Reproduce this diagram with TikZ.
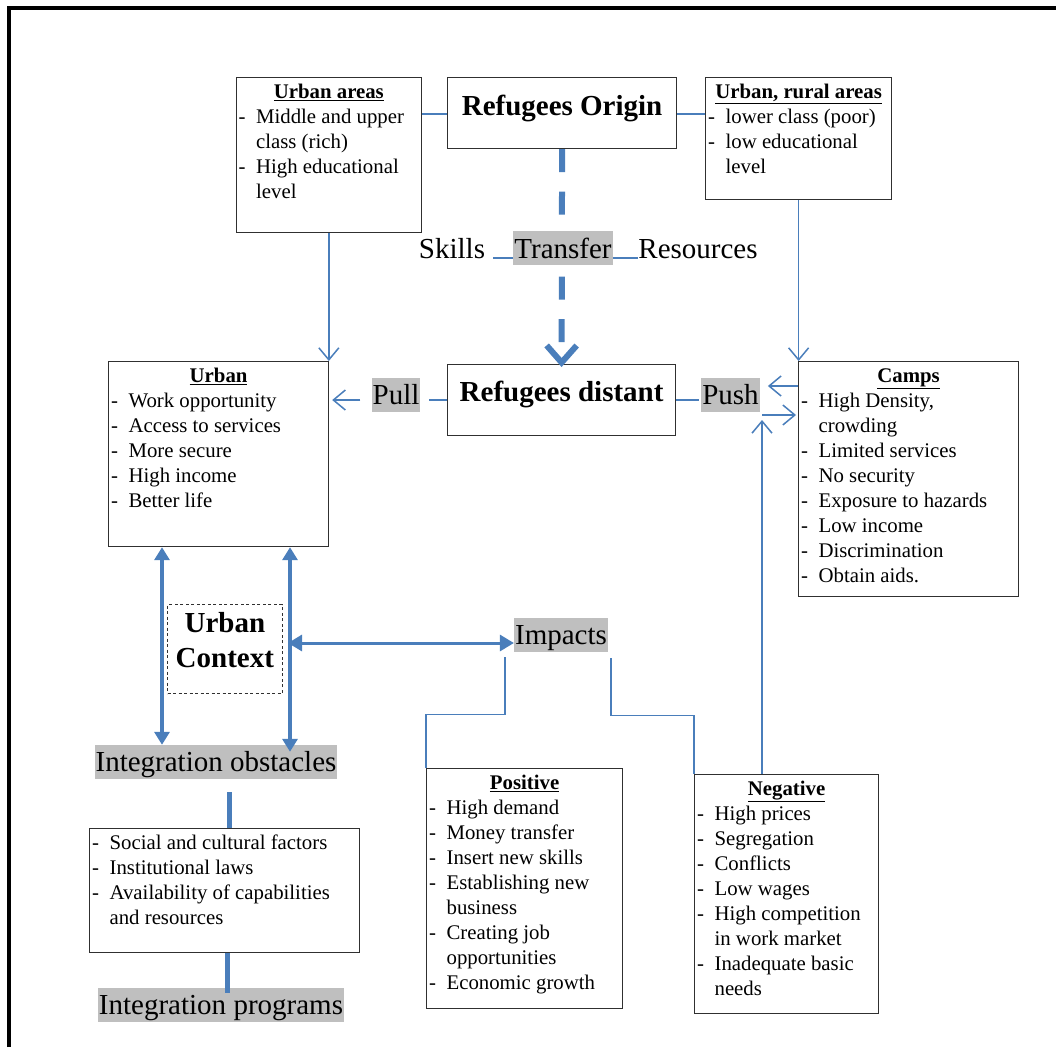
\documentclass[tikz,border=0pt]{standalone}
\usepackage{fontspec}
\setmainfont{Liberation Serif}
\usetikzlibrary{arrows.meta}
\definecolor{lnblue}{HTML}{4A7EBB}
\definecolor{hlgray}{HTML}{BFBFBF}
\definecolor{bxcol}{HTML}{303030}
\newcommand{\bxc}[3]{\parbox[t][#2pt][t]{#1pt}{\fontsize{20.8}{25}\selectfont\lineskiplimit=-100pt\rightskip=0pt plus 1fil\relax #3}}
\newcommand{\hd}[1]{\noindent\makebox[\linewidth][c]{\rule{0pt}{20.5pt}\textbf{\underline{#1}}}\par}
\newcommand{\itm}[1]{\hangindent=20pt\hangafter=1\noindent\makebox[20pt][l]{\hspace{2.5pt}-}\rule{0pt}{20.5pt}#1\par}
\tikzset{
  boxn/.style={draw=bxcol, line width=1.2pt, inner sep=0pt, anchor=north west},
  glabel/.style={fill=hlgray, inner xsep=1pt, inner ysep=1pt, text height=25.8pt, text depth=6.3pt, font=\fontsize{29}{34.8}\selectfont, anchor=base},
  plab/.style={inner sep=0pt, font=\fontsize{29}{34.8}\selectfont, anchor=base},
  conn/.style={draw=lnblue, line width=1.5pt},
  oarrow/.style={conn, -{Straight Barb[length=12pt,width=20pt]}},
  tarrow/.style={draw=lnblue, line width=4pt, {Triangle[length=13pt,width=15pt]}-{Triangle[length=13pt,width=15pt]}},
  harrow/.style={draw=lnblue, line width=3pt, {Triangle[length=14pt,width=16pt]}-{Triangle[length=14pt,width=16pt]}},
  tline/.style={draw=lnblue, line width=5pt},
  dasharrow/.style={draw=lnblue, line width=6pt, dash pattern=on 23pt off 19.5pt, -{Straight Barb[length=17pt,width=30pt]}}
}
\begin{document}
\begin{tikzpicture}[x=1pt,y=-1pt]
\useasboundingbox (0,0) rectangle (1056,1047);
% frame
\draw[line width=4pt] (9.3,1047) -- (9.3,8) -- (1056,8);

% boxes
\node[boxn] (ua) at (235.5,77) {\bxc{185.5}{155}{\hd{Urban areas}\itm{Middle and upper\\class (rich)}\itm{High educational\\level}}};
\node[boxn] (origin) at (447,77) {\parbox[t][71pt][t]{229pt}{\centering\fontsize{29}{34.8}\selectfont\rule{0pt}{38pt}\textbf{Refugees Origin}}};
\node[boxn] (ur) at (705,77) {\bxc{186}{122}{\hd{Urban, rural areas}\itm{lower class (poor)}\itm{low educational\\level}}};

\node[boxn] (urban) at (108,361) {\bxc{220}{185}{\hd{Urban}\itm{Work opportunity}\itm{Access to services}\itm{More secure}\itm{High income}\itm{Better life}}};
\node[boxn] (distant) at (447,364) {\parbox[t][71pt][t]{228pt}{\centering\fontsize{29}{34.8}\selectfont\rule{0pt}{37pt}\textbf{Refugees distant}}};
\node[boxn] (camps) at (798,361) {\bxc{220}{235}{\hd{Camps}\itm{High Density,\\crowding}\itm{Limited services}\itm{No security}\itm{Exposure to hazards}\itm{Low income}\itm{Discrimination}\itm{Obtain aids.}}};

\node[draw=bxcol, line width=1.2pt, dash pattern=on 3pt off 2.5pt, inner sep=0pt, anchor=north west] (uctx) at (167,604) {\parbox[t][89pt][t]{114.5pt}{\centering\fontsize{29}{34.5}\selectfont\bfseries\rule{0pt}{28pt}Urban\\Context}};

\node[boxn] (obsbox) at (89,828) {\bxc{270}{124}{\itm{Social and cultural factors}\itm{Institutional laws}\itm{Availability of capabilities\\and resources}}};
\node[boxn] (positive) at (426,768) {\bxc{196}{240}{\hd{Positive}\itm{High demand}\itm{Money transfer}\itm{Insert new skills}\itm{Establishing new\\business}\itm{Creating job\\opportunities}\itm{Economic growth}}};
\node[boxn] (negative) at (694,774) {\bxc{184}{239}{\hd{Negative}\itm{High prices}\itm{Segregation}\itm{Conflicts}\itm{Low wages}\itm{High competition\\in work market}\itm{Inadequate basic\\needs}}};

% dashed transfer arrow
\draw[dasharrow, shorten >=-3pt] (origin.south) -- (distant.north);

% labels
\node[glabel] (transfer) at (563,258) {Transfer};
\node[plab] (skills) at (452,258) {Skills};
\node[plab] (resources) at (698,258) {Resources};
\node[glabel] (pull) at (396,404.8) {Pull};
\node[glabel] (push) at (730.5,404.8) {Push};
\node[glabel] (impacts) at (561,644.8) {Impacts};
\node[glabel] (obstacles) at (216,771.8) {Integration obstacles};
\node[glabel] (programs) at (221,1014.8) {Integration programs};

% top connectors
\draw[conn] (ua.east |- 0,114) -- (origin.west |- 0,114);
\draw[conn] (origin.east |- 0,114) -- (ur.west |- 0,114);
\draw[conn, shorten <=8pt] (skills.base east) -- (transfer.base west);
\draw[conn] (transfer.base east) -- (resources.base west);
\draw[oarrow] (ua.south) -- (ua.south |- urban.north);
\draw[oarrow] (ur.south) -- (ur.south |- camps.north);

% pull / push
\draw[conn, shorten >=8pt] (distant.west |- 0,400) -- (pull.east |- 0,400);
\draw[oarrow, shorten <=11pt, shorten >=3pt] (pull.west |- 0,400) -- (urban.east |- 0,400);
\draw[conn, shorten >=2pt] (distant.east |- 0,400) -- (push.west |- 0,400);
\draw[oarrow, shorten >=8pt] (camps.west |- 0,386) -- (push.east |- 0,386);
\coordinate (negtop) at (762,420);
\coordinate (pushin) at (762,415);
\draw[oarrow] (negtop |- negative.north) -- (negtop);
\draw[oarrow, shorten >=2pt] (pushin) -- (pushin -| camps.west);

% urban context arrows
\coordinate (bl) at (162,0);
\coordinate (br) at (290,0);
\draw[tarrow] (urban.south -| bl) -- (obstacles.north -| bl);
\draw[tarrow, shorten >=-7pt] (urban.south -| br) -- (obstacles.north -| br);
\draw[harrow, shorten <=-2pt] (br |- 0,643) -- (impacts.west |- 0,643);

% impacts connectors
\draw[conn] ([xshift=-9pt,yshift=-5pt]impacts.south west) -- ++(0,57) -| (positive.north west);
\draw[conn] ([xshift=3pt,yshift=-6pt]impacts.south east) -- ++(0,57) -| (negative.north west);

% obstacles connectors
\draw[tline, shorten <=13pt] (obstacles.south -| 229.5,0) -- (obsbox.north -| 229.5,0);
\draw[tline, shorten >=-5pt] (obsbox.south -| 227,0) -- (programs.north -| 227,0);
\end{tikzpicture}
\end{document}
